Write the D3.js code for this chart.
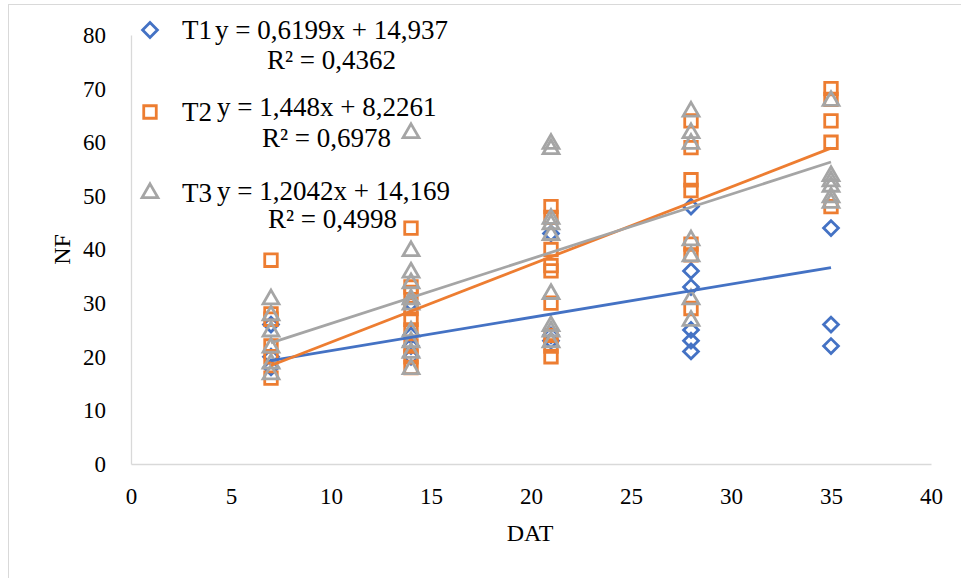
<!DOCTYPE html>
<html>
<head>
<meta charset="utf-8">
<script src="https://cdn.jsdelivr.net/npm/d3@7"></script>
<style>
  html, body { margin: 0; padding: 0; background: #fff; }
  svg text { font-family: "Liberation Serif", "Times New Roman", serif; fill: #000; }
</style>
</head>
<body>
<svg id="chart" width="961" height="578"></svg>
<script>
// Sampling days after transplanting (x) and observed NF per treatment
const dat = [7, 14, 21, 28, 35];
const t1Values = [
  [26, 20, 18],
  [30, 24, 22, 20],
  [43, 24, 23],
  [48, 36, 33, 25, 23, 21],
  [44, 26, 22]
];
const t2Values = [
  [38, 28, 27, 22, 20, 16],
  [44, 33, 32, 29, 27, 25, 22, 20, 18],
  [48, 46, 40, 37, 36, 30, 24, 22, 20],
  [64, 59, 53, 51, 41, 39, 29],
  [70, 68, 64, 60, 48]
];
const t3Values = [
  [31, 28, 25, 22, 19, 17],
  [62, 40, 36, 34, 31, 30, 25, 23, 21, 18],
  [60, 59, 46, 45, 43, 32, 26, 25, 23],
  [66, 62, 60, 42, 39, 31, 27],
  [68, 54, 53, 52, 50, 49]
];

// Linear trendlines: y = slope * x + intercept
const seriesNames = ["T1", "T2", "T3"];
const slopes = [0.6199, 1.448, 1.2042];
const intercepts = [14.937, 8.2261, 14.169];
const rSquared = [0.4362, 0.6978, 0.4998];

const xTicks = [0, 5, 10, 15, 20, 25, 30, 35, 40];
const yTicks = [0, 10, 20, 30, 40, 50, 60, 70, 80];

const colors = ["#4472C4", "#ED7D31", "#A5A5A5"];

const svg = d3.select("#chart");

// Chart frame
svg.append("rect")
  .attr("x", 8.5).attr("y", 4.5)
  .attr("width", 1000).attr("height", 1000)
  .attr("fill", "none").attr("stroke", "#d9d9d9").attr("stroke-width", 1);

const x = d3.scaleLinear().domain([0, 40]).range([131, 931]);
const y = d3.scaleLinear().domain([0, 80]).range([464, 35]);

// Axes
const xAxis = svg.append("g")
  .attr("transform", `translate(0,${y(0)})`)
  .call(d3.axisBottom(x).tickValues(xTicks).tickSize(0).tickPadding(24));
const yAxis = svg.append("g")
  .attr("transform", `translate(${x(0)},0)`)
  .call(d3.axisLeft(y).tickValues(yTicks).tickSize(0).tickPadding(25));
[xAxis, yAxis].forEach(g => {
  g.select(".domain").attr("stroke", "#d9d9d9").attr("stroke-width", 1.3);
  g.selectAll("text")
    .style("font-family", '"Liberation Serif", "Times New Roman", serif')
    .style("font-size", "23px")
    .attr("fill", "#000");
});

svg.append("text")
  .attr("x", 530).attr("y", 541)
  .attr("text-anchor", "middle")
  .style("font-size", "24px")
  .text("DAT");
svg.append("text")
  .attr("transform", `translate(70,${y(40)}) rotate(-90)`)
  .attr("text-anchor", "middle")
  .style("font-size", "24px")
  .text("NF");

// Marker shapes
const symbols = [
  d3.symbol().type(d3.symbolDiamond2).size(140),
  d3.symbol().type(d3.symbolSquare2).size(200),
  d3.symbol().type(d3.symbolTriangle2).size(180)
];

const allSeries = [t1Values, t2Values, t3Values];

allSeries.forEach((vals, si) => {
  const pts = [];
  vals.forEach((col, di) => col.forEach(v => pts.push({ d: dat[di], v })));
  svg.append("g")
    .selectAll("path")
    .data(pts)
    .join("path")
    .attr("d", symbols[si])
    .attr("transform", p => `translate(${x(p.d)},${y(p.v) + (si === 2 ? 1.5 : 0)})`)
    .attr("fill", "none")
    .attr("stroke", colors[si])
    .attr("stroke-width", 2.8);
});

// Trendlines over the observed range
allSeries.forEach((vals, si) => {
  const x0 = d3.min(dat), x1 = d3.max(dat);
  svg.append("line")
    .attr("x1", x(x0)).attr("y1", y(slopes[si] * x0 + intercepts[si]))
    .attr("x2", x(x1)).attr("y2", y(slopes[si] * x1 + intercepts[si]))
    .attr("stroke", colors[si])
    .attr("stroke-width", 2.8);
});

// Legend with trendline equations
const fmt = v => String(v).replace(".", ",");
const legendRows = [
  { my: 30, ty: 39, ey: 39, ex: 215, ry: 69, rx: 267 },
  { my: 112, ty: 121, ey: 116, ex: 217, ry: 147, rx: 262 },
  { my: 193, ty: 202, ey: 200, ex: 217, ry: 228, rx: 268 }
];
legendRows.forEach((r, si) => {
  svg.append("path")
    .attr("d", symbols[si])
    .attr("transform", `translate(150,${r.my})`)
    .attr("fill", "none")
    .attr("stroke", colors[si])
    .attr("stroke-width", 2.8);
  svg.append("text").attr("x", 182).attr("y", r.ty)
    .style("font-size", "27px").text(seriesNames[si]);
  svg.append("text").attr("x", r.ex).attr("y", r.ey)
    .style("font-size", "27px")
    .text(`y = ${fmt(slopes[si])}x + ${fmt(intercepts[si])}`);
  svg.append("text").attr("x", r.rx).attr("y", r.ry)
    .style("font-size", "27px")
    .text(`R² = ${fmt(rSquared[si])}`);
});
</script>
</body>
</html>
